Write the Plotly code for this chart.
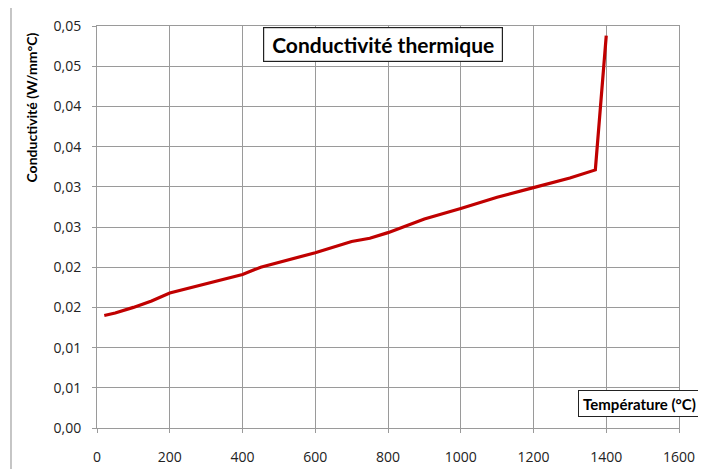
import plotly.graph_objects as go

temperature = [20, 50, 100, 150, 200, 300, 400, 450, 500, 600, 700, 750, 800, 900, 1000, 1100, 1200, 1300, 1370, 1400]
conductivite = [0.0140, 0.0143, 0.0150, 0.0158, 0.0168, 0.0180, 0.0191, 0.0200, 0.0206, 0.0218,
                0.0232, 0.0236, 0.0243, 0.0260, 0.0273, 0.0287, 0.0299, 0.0311, 0.0321, 0.0488]

x_ticks = [0, 200, 400, 600, 800, 1000, 1200, 1400, 1600]
y_ticks = [0, 0.005, 0.01, 0.015, 0.02, 0.025, 0.03, 0.035, 0.04, 0.045, 0.05]
y_tick_labels = ["0,00", "0,01", "0,01", "0,02", "0,02", "0,03", "0,03", "0,04", "0,04", "0,05", "0,05"]

title_text = "Conductivité thermique"
x_title = "Température (°C)"
y_title = "Conductivité (W/mm°C)"

OFF = 8  # default page body margin
W, H = 706 - OFF, 469 - OFF
# plot area in screen pixels: x 97..679, y 26..428
L = 97 - OFF
T = 26 - OFF
R = W - (679 - OFF)
B = H - (428 - OFF)
pw, ph = W - L - R, H - T - B

def px(xs):
    return (xs - OFF - L) / pw

def py(ys):
    return (H - B - (ys - OFF)) / ph

font = "Open Sans, Liberation Sans, sans-serif"
tfont = "Lato, Open Sans, sans-serif"
grid = "#9a9a9a"

fig = go.Figure()
fig.add_trace(go.Scatter(x=temperature, y=conductivite, mode="lines",
                         line=dict(color="#C00000", width=3.2), hoverinfo="x+y"))

fig.update_layout(
    width=W, height=H,
    margin=dict(l=L, r=R, t=T, b=B, autoexpand=False),
    paper_bgcolor="white", plot_bgcolor="white",
    showlegend=False,
    font=dict(family=font, size=14, color="#222"),
    xaxis=dict(range=[0, 1600], tickvals=x_ticks, ticktext=[str(v) for v in x_ticks],
               showgrid=True, gridcolor=grid, gridwidth=1,
               showline=True, linecolor=grid, linewidth=1, mirror=True,
               ticks="outside", ticklen=4, tickcolor=grid, zeroline=False,
               ticklabelstandoff=12, automargin=False,
               tickfont=dict(family=font, size=14, color="#222")),
    yaxis=dict(range=[0, 0.05], tickvals=y_ticks, ticktext=y_tick_labels,
               showgrid=True, gridcolor=grid, gridwidth=1,
               showline=True, linecolor=grid, linewidth=1, mirror=True,
               ticks="outside", ticklen=4, tickcolor=grid, zeroline=False,
               ticklabelstandoff=8, automargin=False,
               tickfont=dict(family=font, size=14, color="#222")),
)

# outer chart border (extends past right and bottom of view)
fig.add_shape(type="path", xref="paper", yref="paper",
              path=f"M {px(11)} {py(480)} L {px(11)} {py(7)} L {px(720)} {py(7)}",
              line=dict(color="#a0a0a0", width=1.2))

# chart title in a box
fig.add_annotation(xref="paper", yref="paper", x=px(382.5), y=py(44), xanchor="center", yanchor="middle",
                   text=f"<b>{title_text}</b>", showarrow=False,
                   font=dict(family=tfont, size=21, color="black"),
                   bgcolor="white", bordercolor="#222", borderwidth=1.2,
                   width=236, height=31)

# x axis title in a box
fig.add_annotation(xref="paper", yref="paper", x=px(639.5), y=py(403), xanchor="center", yanchor="middle",
                   text=f"<b>{x_title}</b>", showarrow=False,
                   font=dict(family=tfont, size=15, color="black"),
                   bgcolor="white", bordercolor="#222", borderwidth=1,
                   width=119, height=23)

# y axis title (rotated)
fig.add_annotation(xref="paper", yref="paper", x=px(31.5), y=py(108), xanchor="center", yanchor="middle",
                   text=f"<b>{y_title}</b>", showarrow=False, textangle=-90,
                   font=dict(family=tfont, size=14, color="black"))

fig.write_html("out.html")
